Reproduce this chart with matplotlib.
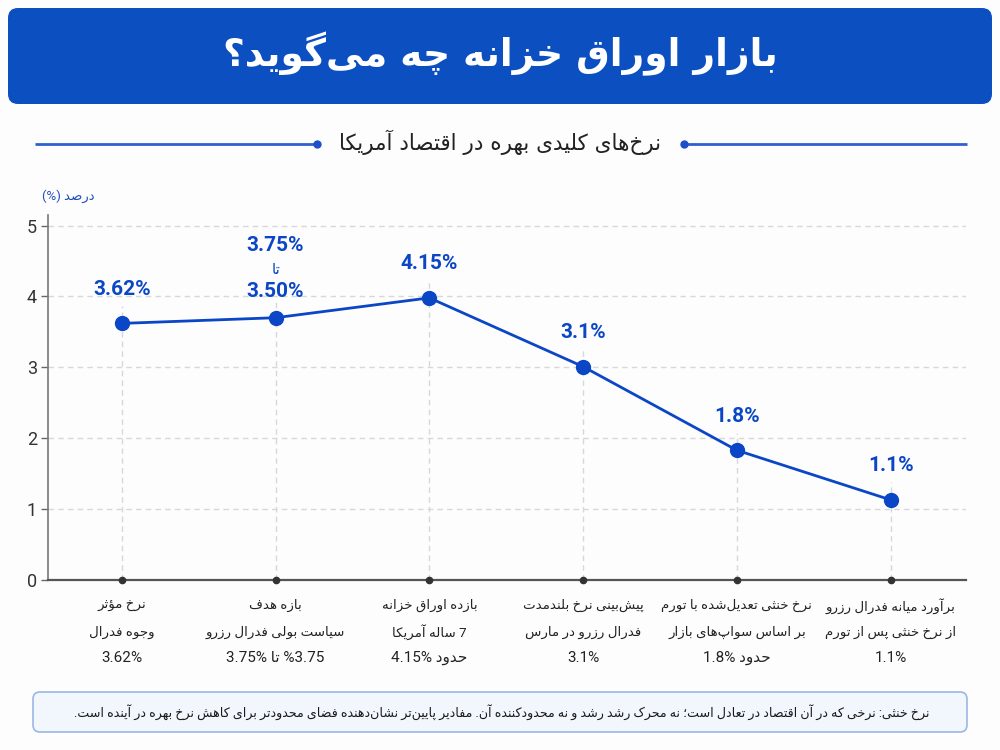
import re
import matplotlib
matplotlib.use("Agg")
import matplotlib.pyplot as plt
from matplotlib.patches import FancyBboxPatch

# ---------------- data ----------------
title = "بازار اوراق خزانه چه می‌گوید؟"
subtitle = "نرخ‌های کلیدی بهره در اقتصاد آمریکا"
y_label = "درصد (%)"
cat_line1 = ["نرخ مؤثر", "بازه هدف", "بازده اوراق خزانه",
             "پیش‌بینی نرخ بلندمدت", "نرخ خنثی تعدیل‌شده با تورم", "برآورد میانه فدرال رزرو"]
cat_line2 = ["وجوه فدرال", "سیاست بولی فدرال رزرو", "7 ساله آمریکا",
             "فدرال رزرو در مارس", "بر اساس سواپ‌های بازار", "از نرخ خنثی پس از تورم"]
cat_line3 = ["3.62%", "%3.75 تا 3.75%", "حدود 4.15%", "3.1%", "حدود 1.8%", "1.1%"]
values = [3.62, 3.70, 3.98, 3.01, 1.83, 1.13]
point_labels = ["3.62%", "3.75%\nتا\n3.50%", "4.15%", "3.1%", "1.8%", "1.1%"]
y_ticks = [0, 1, 2, 3, 4, 5]
note = ("نرخ خنثی: نرخی که در آن اقتصاد در تعادل است؛ نه محرک رشد رشد و نه محدودکننده آن. "
        "مفادیر پایین‌تر نشان‌دهنده فضای محدودتر برای کاهش نرخ بهره در آینده است.")

# ---------------- Persian shaping + simple bidi ----------------
_B = [('ء', 0xFE80, 1), ('آ', 0xFE81, 2), ('أ', 0xFE83, 2), ('ؤ', 0xFE85, 2), ('إ', 0xFE87, 2),
      ('ئ', 0xFE89, 4), ('ا', 0xFE8D, 2), ('ب', 0xFE8F, 4), ('ة', 0xFE93, 2), ('ت', 0xFE95, 4),
      ('ث', 0xFE99, 4), ('ج', 0xFE9D, 4), ('ح', 0xFEA1, 4), ('خ', 0xFEA5, 4), ('د', 0xFEA9, 2),
      ('ذ', 0xFEAB, 2), ('ر', 0xFEAD, 2), ('ز', 0xFEAF, 2), ('س', 0xFEB1, 4), ('ش', 0xFEB5, 4),
      ('ص', 0xFEB9, 4), ('ض', 0xFEBD, 4), ('ط', 0xFEC1, 4), ('ظ', 0xFEC5, 4), ('ع', 0xFEC9, 4),
      ('غ', 0xFECD, 4), ('ف', 0xFED1, 4), ('ق', 0xFED5, 4), ('ك', 0xFED9, 4), ('ل', 0xFEDD, 4),
      ('م', 0xFEE1, 4), ('ن', 0xFEE5, 4), ('ه', 0xFEE9, 4), ('و', 0xFEED, 2), ('ى', 0xFEEF, 2),
      ('ي', 0xFEF1, 4), ('پ', 0xFB56, 4), ('چ', 0xFB7A, 4), ('ژ', 0xFB8A, 2), ('ک', 0xFB8E, 4),
      ('گ', 0xFB92, 4), ('ی', 0xFBFC, 4)]
FORMS = {c: tuple(chr(s + k) for k in range(n)) for c, s, n in _B}
LAMALEF = {'ا': ('\uFEFB', '\uFEFC'), 'آ': ('\uFEF5', '\uFEF6'),
           'أ': ('\uFEF7', '\uFEF8'), 'إ': ('\uFEF9', '\uFEFA')}


def _joins(c):
    return c in FORMS and len(FORMS[c]) > 1


def _dual(c):
    return c in FORMS and len(FORMS[c]) == 4


def shape(s):
    out = []
    n = len(s)
    i = 0
    while i < n:
        c = s[i]
        if c not in FORMS:
            if c != '\u200c':
                out.append(c)
            i += 1
            continue
        prev = s[i - 1] if i > 0 else None
        conn_prev = prev is not None and _dual(prev) and _joins(c)
        if c == 'ل' and i + 1 < n and s[i + 1] in LAMALEF:
            iso, fin = LAMALEF[s[i + 1]]
            out.append(fin if conn_prev else iso)
            i += 2
            continue
        nxt = s[i + 1] if i + 1 < n else None
        conn_next = _dual(c) and nxt is not None and _joins(nxt)
        f = FORMS[c]
        if conn_prev and conn_next:
            g = f[3]
        elif conn_prev:
            g = f[1]
        elif conn_next:
            g = f[2]
        else:
            g = f[0]
        out.append(g)
        i += 1
    return ''.join(out)


MIRROR = {'(': ')', ')': '(', '[': ']', ']': '['}
LTR = r'[0-9A-Za-z.%]'


def fa(s):
    lines = []
    for line in s.split('\n'):
        sh = shape(line)
        toks = re.findall(LTR + r'+|[^0-9A-Za-z.%]+', sh)
        out = []
        for t in reversed(toks):
            if re.match(LTR, t):
                out.append(t)
            else:
                out.append(''.join(MIRROR.get(ch, ch) for ch in reversed(t)))
        lines.append(''.join(out))
    return '\n'.join(lines)


# ---------------- styling ----------------
FAM = ['Roboto', 'DejaVu Sans']
plt.rcParams['font.family'] = FAM
BLUE = '#0A46C6'
BG = '#FDFDFD'

fig = plt.figure(figsize=(10, 7.5), dpi=100, facecolor=BG)

# background/pixel-coordinate layer
bg = fig.add_axes([0, 0, 1, 1], zorder=0)
bg.set_xlim(0, 1000)
bg.set_ylim(750, 0)
bg.axis('off')

bg.add_patch(FancyBboxPatch((8, 8), 984, 96, boxstyle="round,pad=0,rounding_size=10",
                            facecolor='#0B4FC1', edgecolor='none'))
bg.text(500, 54, fa(title), color='white', fontsize=27, fontweight='bold',
        ha='center', va='center', family=['DejaVu Sans'])

bg.plot([35, 317], [144, 144], color='#2F5FD0', lw=2, solid_capstyle='butt')
bg.plot([684, 967], [144, 144], color='#2F5FD0', lw=2, solid_capstyle='butt')
bg.plot([317, 684], [144, 144], 'o', color='#1F4FC8', ms=5, ls='none')
bg.text(500, 142, fa(subtitle), color='#222222', fontsize=15.5, ha='center', va='center',
        family=['DejaVu Sans'])

bg.text(68, 196, fa(y_label), color='#1F4FC0', fontsize=9.5, ha='center', va='center',
        family=FAM)

bg.add_patch(FancyBboxPatch((33, 692), 934, 40, boxstyle="round,pad=0,rounding_size=7",
                            facecolor='#F2F6FD', edgecolor='#9DB6E6', lw=1.2))
bg.text(502, 712, fa(note), color='#1A1A1A', fontsize=9.1, ha='center', va='center',
        family=FAM)

# ---------------- main chart ----------------
ax = fig.add_axes([0.048, 0.2267, 0.918, 0.4867], zorder=2)
ax.set_facecolor('none')
x = list(range(len(values)))
ax.set_xlim(-0.48, len(values) - 1 + 0.49)
ax.set_ylim(0, 5.15)

for yv in y_ticks[1:]:
    ax.axhline(yv, color='#D8D8D8', lw=1, ls=(0, (4, 3)), zorder=1)
for xi, v in zip(x, values):
    ax.plot([xi, xi], [0, v + 0.25], color='#D8D8D8', lw=1, ls=(0, (4, 3)), zorder=1)

ax.plot(x, values, color=BLUE, lw=2, marker='o', ms=10, zorder=4)
ax.plot(x, [0] * len(x), 'o', color='#333333', ms=4.5, clip_on=False, zorder=5)

for xi, v, lab in zip(x, values, point_labels):
    if '\n' in lab:
        parts = lab.split('\n')
        ax.annotate(parts[2], (xi, v), xytext=(0, 19), textcoords='offset points',
                    ha='center', va='center', color=BLUE, fontsize=15, fontweight='bold')
        ax.annotate(fa(parts[1]), (xi, v), xytext=(0, 35), textcoords='offset points',
                    ha='center', va='center', color=BLUE, fontsize=11, family=['DejaVu Sans'])
        ax.annotate(parts[0], (xi, v), xytext=(0, 52), textcoords='offset points',
                    ha='center', va='center', color=BLUE, fontsize=15, fontweight='bold')
    else:
        ax.annotate(lab, (xi, v), xytext=(0, 24.5), textcoords='offset points',
                    ha='center', va='center', color=BLUE, fontsize=15, fontweight='bold')

for xi, l1, l2, l3 in zip(x, cat_line1, cat_line2, cat_line3):
    for off, t, fs in ((-18.5, l1, 9.6), (-37.5, l2, 9.6), (-56, l3, 11)):
        ax.annotate(fa(t), (xi, 0), xytext=(0, off), textcoords='offset points',
                    ha='center', va='center', color='#222222', fontsize=fs, family=FAM,
                    annotation_clip=False)

ax.set_xticks([])
ax.set_yticks(y_ticks)
ax.tick_params(axis='y', length=5, width=1, color='#666666', labelsize=13,
               labelcolor='#333333', pad=3)
for s in ('top', 'right'):
    ax.spines[s].set_visible(False)
ax.spines['left'].set_color('#777777')
ax.spines['left'].set_linewidth(1.2)
ax.spines['bottom'].set_color('#555555')
ax.spines['bottom'].set_linewidth(1.6)

fig.savefig('out.png', dpi=100, facecolor=BG)
